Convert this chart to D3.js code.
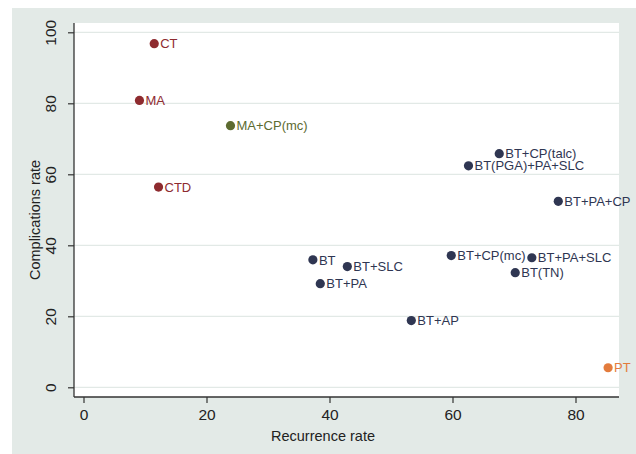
<!DOCTYPE html>
<html lang="en">
<head>
<meta charset="UTF-8">
<title>Recurrence vs complications</title>
<script src="https://d3js.org/d3.v7.min.js"></script>
<style>
    body { margin: 0; background: #ffffff; font-family: "Liberation Sans", Arial, sans-serif; }
    .tick text { font-size: 15.5px; fill: #222; }
    .axis-title { font-size: 14.5px; fill: #222; }
    .pt-label { font-size: 13px; }
</style>
</head>
<body>
<div id="chart"></div>
<script>
// treatments and their values
const treatments = ["CT", "MA", "MA+CP(mc)", "CTD", "BT+CP(talc)", "BT(PGA)+PA+SLC", "BT+PA+CP",
    "BT", "BT+SLC", "BT+PA", "BT+CP(mc)", "BT+PA+SLC", "BT(TN)", "BT+AP", "PT"];
const recurrence = [11.5, 9.1, 23.9, 12.2, 67.6, 62.6, 77.2, 37.3, 42.9, 38.5, 59.8, 72.9, 70.2, 53.3, 85.3];
const complications = [96.8, 80.8, 73.7, 56.4, 65.8, 62.4, 52.4, 35.9, 34.0, 29.2, 37.1, 36.5, 32.3, 18.8, 5.5];
const groups = ["red", "red", "green", "red", "navy", "navy", "navy",
    "navy", "navy", "navy", "navy", "navy", "navy", "navy", "orange"];
const xTicks = [0, 20, 40, 60, 80];
const yTicks = [0, 20, 40, 60, 80, 100];

const colors = { red: "#8e2b2f", green: "#5d6b30", navy: "#2f3652", orange: "#e37b3c" };

const W = 636, H = 454;
const plot = { left: 74, right: 619, top: 23, bottom: 397 };

const svg = d3.select("#chart").append("svg")
    .attr("width", W).attr("height", H);

// outer grey panel
svg.append("rect").attr("x", 12).attr("y", 8).attr("width", W - 12).attr("height", H - 8)
    .attr("fill", "#e3eae7");
// white plot region
svg.append("rect").attr("x", plot.left).attr("y", plot.top)
    .attr("width", plot.right - plot.left).attr("height", plot.bottom - plot.top)
    .attr("fill", "#ffffff");

const x = d3.scaleLinear().domain([0, 80]).range([83.5, 575.5]);
const y = d3.scaleLinear().domain([0, 100]).range([387.3, 32.3]);

// horizontal grid
svg.append("g").selectAll("line").data(yTicks).join("line")
    .attr("x1", plot.left).attr("x2", plot.right)
    .attr("y1", d => y(d)).attr("y2", d => y(d))
    .attr("stroke", "#e2e9e6").attr("stroke-width", 1.2);

const xAxis = svg.append("g")
    .attr("transform", `translate(0,${plot.bottom})`)
    .call(d3.axisBottom(x).tickValues(xTicks).tickSize(6).tickPadding(6).tickSizeOuter(0));
xAxis.select(".domain").attr("d", `M${plot.left},0H${plot.right}`);

const yAxis = svg.append("g")
    .attr("transform", `translate(${plot.left},0)`)
    .call(d3.axisLeft(y).tickValues(yTicks).tickSize(6).tickSizeOuter(0));
yAxis.select(".domain").attr("d", `M0,${plot.top}V${plot.bottom}`);
yAxis.selectAll(".tick text")
    .attr("transform", "rotate(-90)")
    .attr("x", 0).attr("y", -18)
    .attr("dy", "0")
    .style("text-anchor", "middle");

[xAxis, yAxis].forEach(a => {
    a.selectAll(".domain").attr("stroke", "#333").attr("stroke-width", 1.3);
    a.selectAll(".tick line").attr("stroke", "#333").attr("stroke-width", 1.2);
});

svg.append("text").attr("class", "axis-title")
    .attr("x", 323).attr("y", 441).attr("text-anchor", "middle")
    .text("Recurrence rate");

svg.append("text").attr("class", "axis-title")
    .attr("transform", "rotate(-90)")
    .attr("x", -220).attr("y", 40).attr("text-anchor", "middle")
    .text("Complications rate");

const pts = svg.append("g").selectAll("g").data(treatments).join("g")
    .attr("transform", (d, i) => `translate(${x(recurrence[i])},${y(complications[i])})`);

pts.append("circle").attr("r", 4.6)
    .attr("fill", (d, i) => colors[groups[i]]);

pts.append("text").attr("class", "pt-label")
    .attr("x", 6).attr("dy", "0.36em")
    .attr("fill", (d, i) => colors[groups[i]])
    .text(d => d);
</script>
</body>
</html>
